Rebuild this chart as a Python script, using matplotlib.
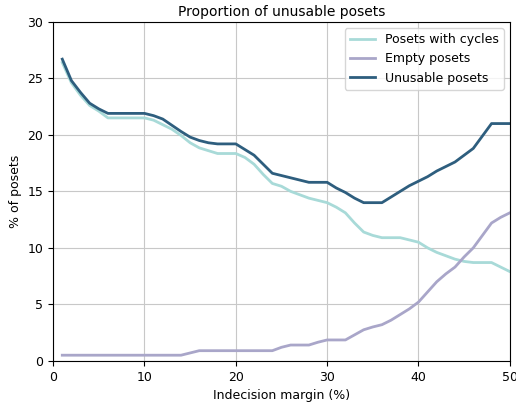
import matplotlib
matplotlib.use("Agg")
import matplotlib.pyplot as plt

# indecision margin in percent, one point per integer step
margin = list(range(1, 51))

cycles = [26.4, 24.6, 23.5, 22.6, 22.1, 21.5, 21.5, 21.5, 21.5, 21.5,
          21.3, 20.9, 20.5, 19.95, 19.3, 18.85, 18.6, 18.35, 18.35, 18.35,
          18.0, 17.4, 16.5, 15.7, 15.45, 15.0, 14.7, 14.4, 14.2, 14.0,
          13.6, 13.1, 12.2, 11.4, 11.1, 10.9, 10.9, 10.9, 10.7, 10.5,
          10.0, 9.6, 9.3, 9.0, 8.8, 8.7, 8.7, 8.7, 8.3, 7.9]

empty = [0.5, 0.5, 0.5, 0.5, 0.5, 0.5, 0.5, 0.5, 0.5, 0.5,
         0.5, 0.5, 0.5, 0.5, 0.7, 0.9, 0.9, 0.9, 0.9, 0.9,
         0.9, 0.9, 0.9, 0.9, 1.2, 1.4, 1.4, 1.4, 1.65, 1.85,
         1.85, 1.85, 2.3, 2.75, 3.0, 3.2, 3.6, 4.1, 4.6, 5.2,
         6.1, 7.0, 7.7, 8.3, 9.2, 10.0, 11.1, 12.2, 12.7, 13.1]

unusable = [26.7, 24.8, 23.75, 22.8, 22.3, 21.9, 21.9, 21.9, 21.9, 21.9,
            21.7, 21.4, 20.85, 20.3, 19.8, 19.5, 19.3, 19.2, 19.2, 19.2,
            18.7, 18.2, 17.4, 16.6, 16.4, 16.2, 16.0, 15.8, 15.8, 15.8,
            15.3, 14.9, 14.4, 14.0, 14.0, 14.0, 14.5, 15.0, 15.5, 15.9,
            16.3, 16.8, 17.2, 17.6, 18.2, 18.8, 19.9, 21.0, 21.0, 21.0]

fig = plt.figure(figsize=(5.16, 4.05), dpi=100)
ax = fig.add_axes([0.103, 0.109, 0.885, 0.837])

ax.plot(margin, cycles, color='#a8dad8', linewidth=2, label='Posets with cycles')
ax.plot(margin, empty, color='#a9a6c9', linewidth=2, label='Empty posets')
ax.plot(margin, unusable, color='#2e5e7e', linewidth=2, label='Unusable posets')

ax.set_xlim(0, 50)
ax.set_ylim(0, 30)
ax.grid(True, color='#c8c8c8', linewidth=0.8)
ax.set_axisbelow(True)
ax.tick_params(labelsize=9)

ax.set_title('Proportion of unusable posets', fontsize=10, pad=4)
ax.set_xlabel('Indecision margin (%)', fontsize=9)
ax.set_ylabel('% of posets', fontsize=9)
ax.legend(loc='upper right', fontsize=9)

fig.savefig('out.png', dpi=100)
